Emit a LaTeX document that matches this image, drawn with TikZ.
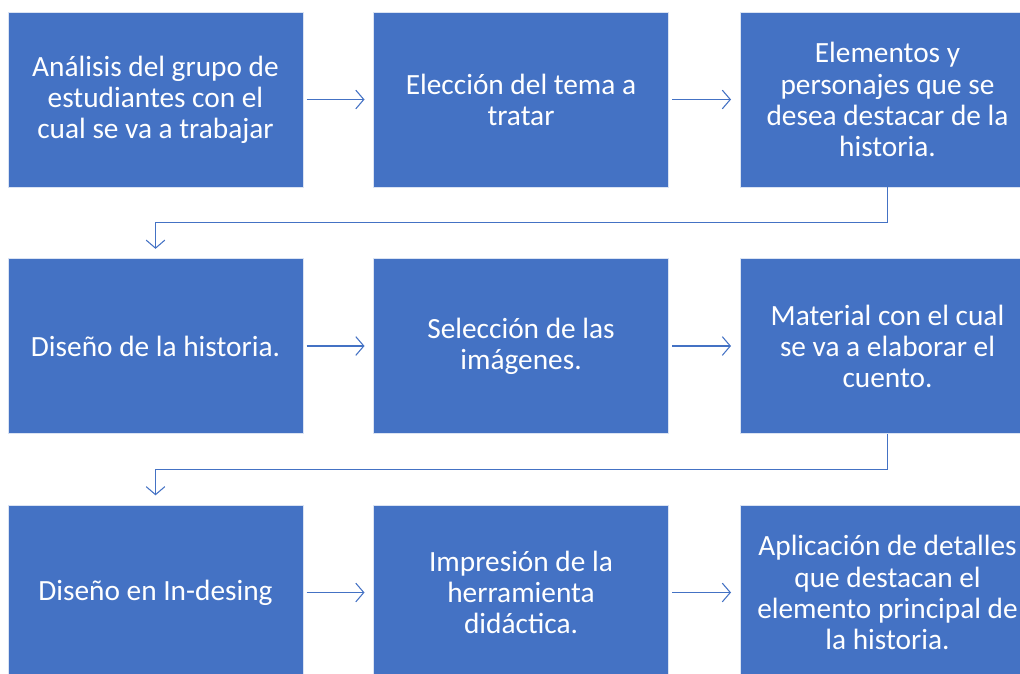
\documentclass[tikz,border=0pt]{standalone}
\usepackage{fontspec}
\setmainfont{Carlito}
\usetikzlibrary{arrows.meta}

\definecolor{officeblue}{HTML}{4472C4}

\tikzstyle{stepbox} = [fill=officeblue, draw=white!80!officeblue, line width=0.5pt,
    rectangle, minimum width=221.25pt, minimum height=131.25pt,
    text=white, align=center, font=\fontsize{22}{23.3}\selectfont]
\tikzstyle{flow} = [draw=officeblue, line width=0.8pt,
    -{Straight Barb[length=6pt,width=14pt,line width=0.8pt]}]

\begin{document}
\begin{tikzpicture}[x=0.75pt, y=-0.75pt]
\useasboundingbox (0,0) rectangle (1020,674);
%------------ Fila 1 ---------------------
\node [stepbox] (analisis) at (155.5,99.5) {Análisis del grupo de\\estudiantes con el\\cual se va a trabajar};
\node [stepbox] (tema) at (521,99.5) {Elección del tema a\\tratar};
\node [stepbox] (elementos) at (887.5,99.5) {Elementos y\\personajes que se\\desea destacar de la\\historia.};
%------------ Fila 2 ---------------------
\node [stepbox] (historia) at (155.5,346) {Diseño de la historia.};
\node [stepbox] (imagenes) at (521,346) {Selección de las\\imágenes.};
\node [stepbox] (material) at (887.5,346) {Material con el cual\\se va a elaborar el\\cuento.};
%------------ Fila 3 ---------------------
\node [stepbox] (indesing) at (155.5,592.5) {Diseño en In-desing};
\node [stepbox] (impresion) at (521,592.5) {Impresión de la\\herramienta\\didáctica.};
\node [stepbox] (detalles) at (887.5,592.5) {Aplicación de detalles\\que destacan el\\elemento principal de\\la historia.};
%------------ Flechas ---------------------
\draw [flow, shorten <=2.5pt, shorten >=6.5pt] (analisis) -- (tema);
\draw [flow, shorten <=2.5pt, shorten >=6.5pt] (tema) -- (elementos);
\draw [flow, shorten <=2.5pt, shorten >=6.5pt] (historia) -- (imagenes);
\draw [flow, shorten <=2.5pt, shorten >=6.5pt] (imagenes) -- (material);
\draw [flow, shorten <=2.5pt, shorten >=6.5pt] (indesing) -- (impresion);
\draw [flow, shorten <=2.5pt, shorten >=6.5pt] (impresion) -- (detalles);
\draw [flow, shorten >=7pt] (elementos.south) -- ++(0,35.5) -| (historia.north);
\draw [flow, shorten >=7pt] (material.south) -- ++(0,35.5) -| (indesing.north);
\end{tikzpicture}
\end{document}
